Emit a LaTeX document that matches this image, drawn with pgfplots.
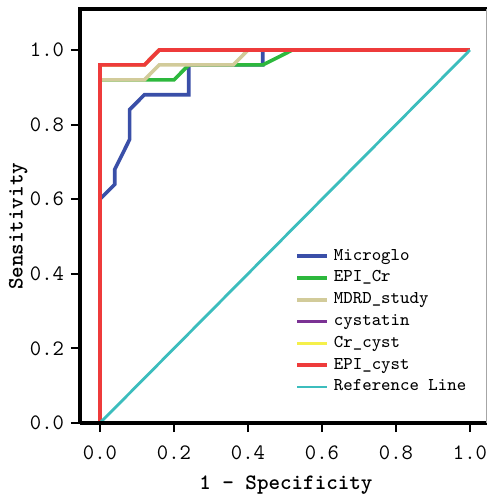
\documentclass[border=0pt]{standalone}
\usepackage{pgfplots}
\pgfplotsset{compat=1.18}
\definecolor{cMic}{RGB}{58,79,168}
\definecolor{cEpiCr}{RGB}{45,184,61}
\definecolor{cMdrd}{RGB}{210,203,154}
\definecolor{cCys}{RGB}{123,50,148}
\definecolor{cCrCys}{RGB}{245,240,74}
\definecolor{cEpiCys}{RGB}{238,59,59}
\definecolor{cRef}{RGB}{60,189,189}
\begin{document}
\begin{tikzpicture}
\useasboundingbox (-40pt,-36pt) rectangle (205pt,211.5pt);
\begin{axis}[
  scale only axis, width=203.5pt, height=207pt,
  xmin=-0.054, xmax=1.046, ymin=0, ymax=1.11,
  clip=false,
  axis line style={draw=none},
  tick align=outside, tick pos=left,
  major tick length=4.5pt,
  tick style={black, line width=1pt},
  xtick={0,0.2,0.4,0.6,0.8,1}, xticklabels={0.0,0.2,0.4,0.6,0.8,1.0},
  ytick={0,0.2,0.4,0.6,0.8,1}, yticklabels={0.0,0.2,0.4,0.6,0.8,1.0},
  ticklabel style={font=\fontsize{11}{13}\selectfont\ttfamily},
  xticklabel style={yshift=-3.5pt},
  xlabel={1 - Specificity}, ylabel={Sensitivity},
  label style={font=\fontsize{11}{13}\selectfont\ttfamily\bfseries},
  xlabel style={at={(axis description cs:0.506,-0.15)}, anchor=center},
  ylabel style={at={(axis description cs:-0.152,0.475)}, anchor=center},
  legend style={at={(axis cs:0.527,0.47)}, anchor=north west, draw=none, fill=none,
    inner sep=0pt, row sep=2.9pt, font=\fontsize{9}{11}\selectfont\ttfamily,
    nodes={inner sep=0pt, text height=6pt, text depth=2pt},
    /tikz/every odd column/.append style={column sep=2.5pt}},
  legend cell align=left,
  legend image code/.code={\draw[#1] (0pt,0pt) -- (15pt,0pt);},
  every axis plot/.append style={line width=1.8pt},
]
% Microglo
\addplot[cMic] coordinates {(0,0)(0,0.6)(0.04,0.64)(0.04,0.68)(0.08,0.76)(0.08,0.84)(0.12,0.88)(0.24,0.88)(0.24,0.96)(0.44,0.96)(0.44,1)(1,1)};
\addlegendentry{Microglo}
% EPI_Cr
\addplot[cEpiCr] coordinates {(0,0)(0,0.92)(0.2,0.92)(0.24,0.96)(0.44,0.96)(0.52,1)(1,1)};
\addlegendentry{EPI\_Cr}
% MDRD_study
\addplot[cMdrd] coordinates {(0,0)(0,0.92)(0.12,0.92)(0.16,0.96)(0.36,0.96)(0.40,1)(1,1)};
\addlegendentry{MDRD\_study}
% cystatin
\addplot[cCys] coordinates {(0,0)(0,0.96)(0.12,0.96)(0.16,1)(1,1)};
\addlegendentry{cystatin}
% Cr_cyst
\addplot[cCrCys] coordinates {(0,0)(0,0.96)(0.12,0.96)(0.16,1)(1,1)};
\addlegendentry{Cr\_cyst}
% EPI_cyst
\addplot[cEpiCys] coordinates {(0,0)(0,0.96)(0.12,0.96)(0.16,1)(1,1)};
\addlegendentry{EPI\_cyst}
% reference line
\addplot[cRef, line width=1.4pt] coordinates {(0,0)(1,1)};
\addlegendentry{Reference Line}
% frame
\draw[black, line width=1.6pt] (rel axis cs:0,0) -- (rel axis cs:0,1) -- (rel axis cs:1,1);
\draw[black, line width=1.6pt] (rel axis cs:0,0) -- (rel axis cs:1,0);
\draw[black!35, line width=0.5pt] (rel axis cs:1,0) -- (rel axis cs:1,1);
\end{axis}
\end{tikzpicture}
\end{document}
